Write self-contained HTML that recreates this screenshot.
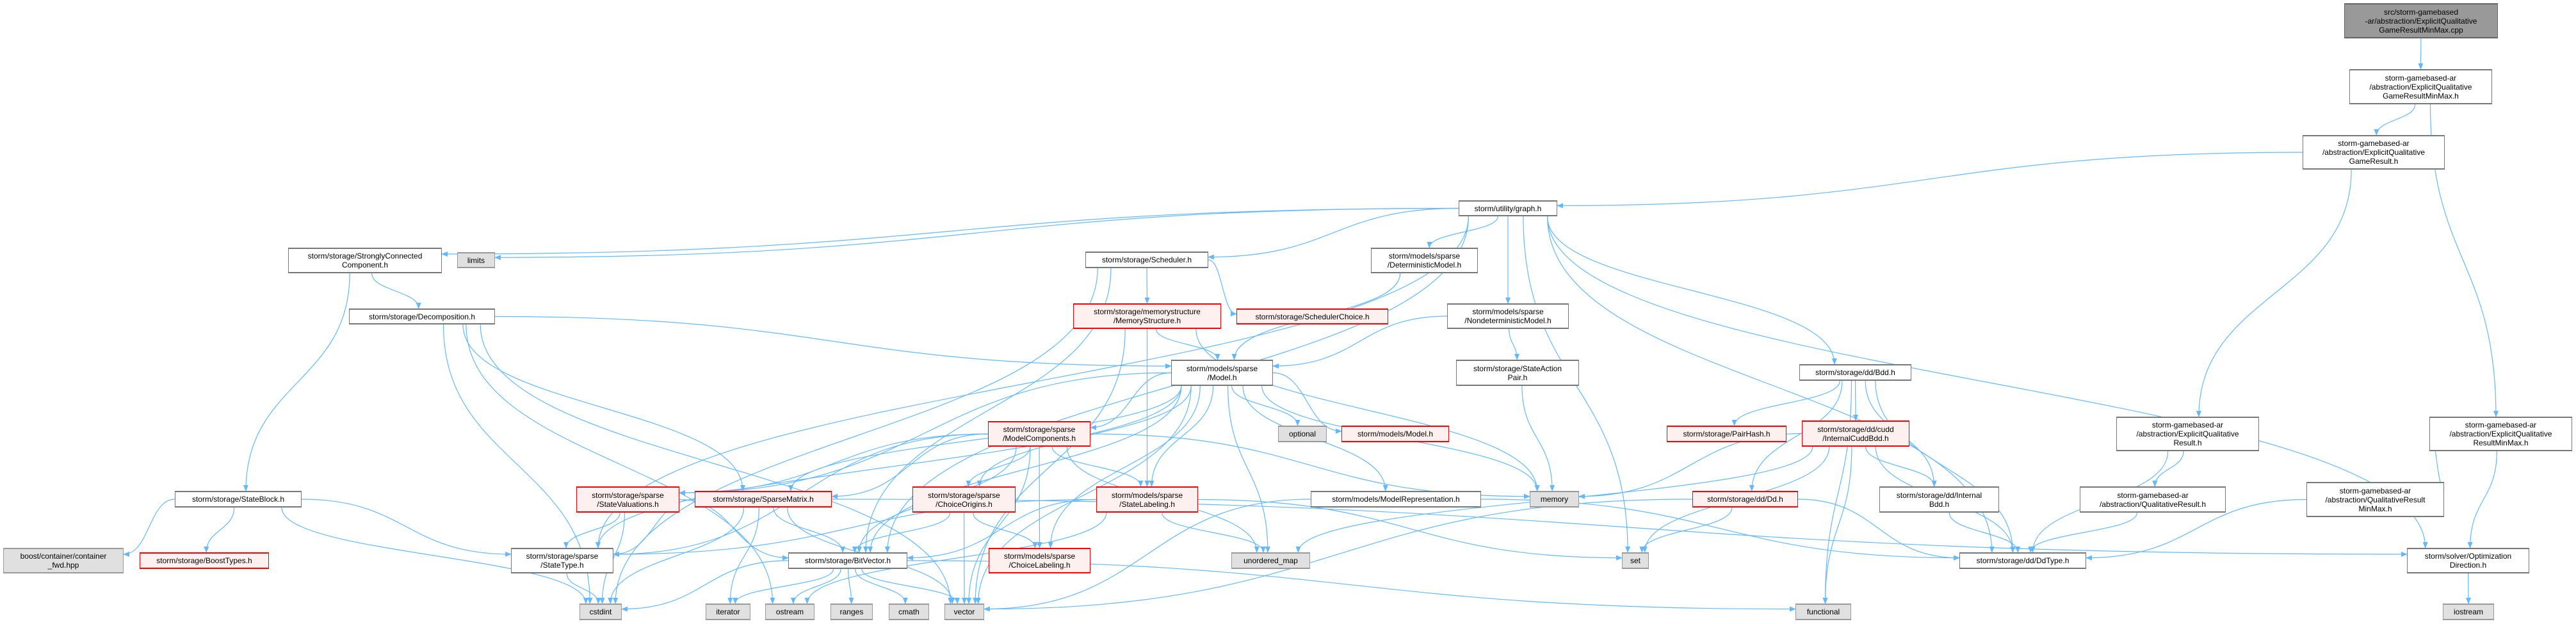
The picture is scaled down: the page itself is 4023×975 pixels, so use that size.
<!DOCTYPE html>
<html><head><meta charset="utf-8">
<style>
html,body{margin:0;padding:0;background:#fff;}
#c{position:relative;width:4023px;height:975px;overflow:hidden;}
.n{position:absolute;box-sizing:border-box;border:1px solid #666;background:#fff;display:flex;align-items:center;justify-content:center;text-align:center;font-family:"Liberation Sans",sans-serif;font-size:12px;line-height:14px;color:#000;white-space:nowrap;border-top-width:2px;border-bottom-width:2px;border-color:#777;}
.r{border-color:#ff0000;background:#fff0f0;}
.g{border-color:#999;background:#e0e0e0;}
.t{background:#999;border-color:#666;}
svg{position:absolute;left:0;top:0;}
</style></head><body>
<div id="c">
<svg id="s" width="4023" height="975" xmlns="http://www.w3.org/2000/svg">
<defs><marker id="a" markerWidth="10" markerHeight="8" refX="9" refY="4" orient="auto" markerUnits="userSpaceOnUse"><path d="M0,0 L10,4 L0,8 z" fill="#63b8ff"/></marker></defs>
<g id="e" fill="none" stroke="#63b8ff" stroke-width="1.2"></g>
</svg>
<div class="n t" id="target" style="left:3661px;top:5px;width:240px;height:55px">src/storm-gamebased<br>-ar/abstraction/ExplicitQualitative<br>GameResultMinMax.cpp</div>
<div class="n" id="mm" style="left:3669px;top:108px;width:223px;height:55px">storm-gamebased-ar<br>/abstraction/ExplicitQualitative<br>GameResultMinMax.h</div>
<div class="n" id="gr" style="left:3596px;top:211px;width:222px;height:54px">storm-gamebased-ar<br>/abstraction/ExplicitQualitative<br>GameResult.h</div>
<div class="n" id="graph" style="left:2278px;top:313px;width:154px;height:25px">storm/utility/graph.h</div>
<div class="n" id="scc" style="left:450px;top:387px;width:240px;height:40px">storm/storage/StronglyConnected<br>Component.h</div>
<div class="n g" id="limits" style="left:714px;top:394px;width:59px;height:25px">limits</div>
<div class="n" id="sched" style="left:1695px;top:393px;width:192px;height:26px">storm/storage/Scheduler.h</div>
<div class="n" id="det" style="left:2141px;top:387px;width:167px;height:40px">storm/models/sparse<br>/DeterministicModel.h</div>
<div class="n" id="decomp" style="left:545px;top:482px;width:228px;height:25px">storm/storage/Decomposition.h</div>
<div class="n r" id="mem" style="left:1676px;top:474px;width:231px;height:40px">storm/storage/memorystructure<br>/MemoryStructure.h</div>
<div class="n r" id="schc" style="left:1931px;top:482px;width:237px;height:25px">storm/storage/SchedulerChoice.h</div>
<div class="n" id="nondet" style="left:2260px;top:474px;width:190px;height:40px">storm/models/sparse<br>/NondeterministicModel.h</div>
<div class="n" id="model" style="left:1829px;top:562px;width:159px;height:41px">storm/models/sparse<br>/Model.h</div>
<div class="n" id="sap" style="left:2274px;top:562px;width:192px;height:41px">storm/storage/StateAction<br>Pair.h</div>
<div class="n" id="bdd" style="left:2810px;top:569px;width:175px;height:26px">storm/storage/dd/Bdd.h</div>
<div class="n r" id="mc" style="left:1543px;top:658px;width:160px;height:40px">storm/storage/sparse<br>/ModelComponents.h</div>
<div class="n g" id="opt" style="left:1996px;top:665px;width:76px;height:26px">optional</div>
<div class="n r" id="mmodel" style="left:2095px;top:665px;width:168px;height:26px">storm/models/Model.h</div>
<div class="n r" id="pairhash" style="left:2603px;top:665px;width:187px;height:26px">storm/storage/PairHash.h</div>
<div class="n r" id="icb" style="left:2814px;top:657px;width:168px;height:41px">storm/storage/dd/cudd<br>/InternalCuddBdd.h</div>
<div class="n" id="eqr" style="left:3305px;top:651px;width:223px;height:54px">storm-gamebased-ar<br>/abstraction/ExplicitQualitative<br>Result.h</div>
<div class="n" id="eqrmm" style="left:3794px;top:651px;width:223px;height:54px">storm-gamebased-ar<br>/abstraction/ExplicitQualitative<br>ResultMinMax.h</div>
<div class="n" id="sblock" style="left:273px;top:767px;width:198px;height:26px">storm/storage/StateBlock.h</div>
<div class="n r" id="sval" style="left:900px;top:760px;width:161px;height:41px">storm/storage/sparse<br>/StateValuations.h</div>
<div class="n r" id="spm" style="left:1085px;top:767px;width:214px;height:26px">storm/storage/SparseMatrix.h</div>
<div class="n r" id="co" style="left:1425px;top:760px;width:161px;height:41px">storm/storage/sparse<br>/ChoiceOrigins.h</div>
<div class="n r" id="sl" style="left:1712px;top:760px;width:159px;height:41px">storm/models/sparse<br>/StateLabeling.h</div>
<div class="n" id="mrep" style="left:2047px;top:767px;width:266px;height:26px">storm/models/ModelRepresentation.h</div>
<div class="n g" id="memory" style="left:2389px;top:767px;width:77px;height:26px">memory</div>
<div class="n r" id="dd" style="left:2643px;top:767px;width:165px;height:26px">storm/storage/dd/Dd.h</div>
<div class="n" id="ib" style="left:2935px;top:760px;width:187px;height:41px">storm/storage/dd/Internal<br>Bdd.h</div>
<div class="n" id="qr" style="left:3248px;top:760px;width:228px;height:41px">storm-gamebased-ar<br>/abstraction/QualitativeResult.h</div>
<div class="n" id="qrmm" style="left:3602px;top:753px;width:215px;height:55px">storm-gamebased-ar<br>/abstraction/QualitativeResult<br>MinMax.h</div>
<div class="n g" id="boost" style="left:5px;top:856px;width:188px;height:40px">boost/container/container<br>_fwd.hpp</div>
<div class="n r" id="bt" style="left:218px;top:863px;width:202px;height:26px">storm/storage/BoostTypes.h</div>
<div class="n" id="st" style="left:798px;top:856px;width:160px;height:40px">storm/storage/sparse<br>/StateType.h</div>
<div class="n" id="bv" style="left:1231px;top:863px;width:186px;height:26px">storm/storage/BitVector.h</div>
<div class="n r" id="cl" style="left:1544px;top:856px;width:159px;height:40px">storm/models/sparse<br>/ChoiceLabeling.h</div>
<div class="n g" id="umap" style="left:1923px;top:863px;width:123px;height:26px">unordered_map</div>
<div class="n g" id="set" style="left:2533px;top:863px;width:42px;height:26px">set</div>
<div class="n" id="ddtype" style="left:3060px;top:863px;width:198px;height:26px">storm/storage/dd/DdType.h</div>
<div class="n" id="optdir" style="left:3759px;top:856px;width:191px;height:40px">storm/solver/Optimization<br>Direction.h</div>
<div class="n g" id="cstdint" style="left:905px;top:943px;width:66px;height:26px">cstdint</div>
<div class="n g" id="iterator" style="left:1102px;top:943px;width:70px;height:26px">iterator</div>
<div class="n g" id="ostream" style="left:1195px;top:943px;width:77px;height:26px">ostream</div>
<div class="n g" id="ranges" style="left:1297px;top:943px;width:66px;height:26px">ranges</div>
<div class="n g" id="cmath" style="left:1388px;top:943px;width:63px;height:26px">cmath</div>
<div class="n g" id="vector" style="left:1475px;top:943px;width:62px;height:26px">vector</div>
<div class="n g" id="functional" style="left:2804px;top:943px;width:87px;height:26px">functional</div>
<div class="n g" id="iostream" style="left:3815px;top:943px;width:80px;height:26px">iostream</div>
</div>
<script>
var E=[["target","mm"],["mm","gr"],["mm","eqrmm"],["gr","graph"],["gr","eqr"],
["graph","scc"],["graph","limits"],["graph","sched"],["graph","det"],["graph","nondet"],["graph","set"],["graph","bdd"],["graph","ddtype"],["graph","optdir"],["graph","st"],["graph","bv"],
["scc","decomp"],["scc","sblock"],
["decomp","model"],["decomp","spm"],["decomp","cstdint"],["decomp","ostream"],["decomp","vector"],
["sblock","boost"],["sblock","bt"],["sblock","st"],["sblock","cstdint"],
["sched","mem"],["sched","schc"],["sched","bv"],["sched","cstdint"],
["mem","model"],["mem","sl"],["mem","memory"],["mem","vector"],
["det","model"],["nondet","model"],["nondet","sap"],["sap","memory"],
["model","mc"],["model","co"],["model","sl"],["model","opt"],["model","mmodel"],["model","mrep"],["model","umap"],["model","memory"],["model","vector"],["model","spm"],["model","sval"],["model","st"],["model","bv"],["model","cl"],
["mc","co"],["mc","cl"],["mc","sl"],["mc","umap"],["mc","memory"],["mc","spm"],["mc","sval"],["mc","st"],["mc","bv"],["mc","vector"],
["co","bv"],["co","cl"],["co","vector"],
["sl","bv"],["sl","set"],["sl","umap"],["sl","st"],["sl","ostream"],
["mrep","vector"],["mrep","ddtype"],
["spm","st"],["spm","bv"],["spm","cstdint"],["spm","iterator"],["spm","vector"],["spm","optdir"],
["sval","st"],["sval","cstdint"],["sval","bv"],
["st","cstdint"],
["bv","cstdint"],["bv","iterator"],["bv","ostream"],["bv","ranges"],["bv","cmath"],["bv","vector"],["bv","functional"],
["bdd","pairhash"],["bdd","icb"],["bdd","ib"],["bdd","ddtype"],["bdd","dd"],["bdd","functional"],
["icb","ib"],["icb","ddtype"],["icb","functional"],["icb","memory"],["icb","set"],["icb","umap"],
["ib","ddtype"],["dd","ddtype"],["dd","set"],["dd","vector"],
["eqr","qr"],["eqr","ddtype"],["qr","ddtype"],
["eqrmm","qrmm"],["eqrmm","optdir"],["qrmm","ddtype"],["optdir","iostream"]];
function b(id){var el=document.getElementById(id);return {x:el.offsetLeft,y:el.offsetTop,w:el.offsetWidth,h:el.offsetHeight};}
var g=document.getElementById("e"),h="";
E.forEach(function(p){var s=b(p[0]),t=b(p[1]);
var sc=s.x+s.w/2,tc=t.x+t.w/2,d=tc-sc;
var dy=t.y-(s.y+s.h);
if(Math.abs(d)>4*dy&&dy<160){
 var left=d<0;
 var x1=left?s.x:s.x+s.w, y1=s.y+s.h/2;
 var x2=left?t.x+t.w:t.x, y2=t.y+Math.min(10,t.h/3);
 var mx=(x1+x2)/2;
 h+='<path d="M'+x1+','+y1+' C'+mx+','+y1+' '+mx+','+y2+' '+x2+','+y2+'" marker-end="url(#a)"/>';
 return;}
var x1=sc+Math.max(-s.w*0.4,Math.min(s.w*0.4,d*0.12));
var x2=tc-Math.max(-t.w*0.35,Math.min(t.w*0.35,d*0.06));
var y1=s.y+s.h,y2=t.y;
var m=(y2-y1)*0.5;
h+='<path d="M'+x1.toFixed(1)+','+y1+' C'+x1.toFixed(1)+','+(y1+m).toFixed(1)+' '+x2.toFixed(1)+','+(y2-m).toFixed(1)+' '+x2.toFixed(1)+','+y2+'" marker-end="url(#a)"/>';});
g.innerHTML=h;
</script>
</body></html>
